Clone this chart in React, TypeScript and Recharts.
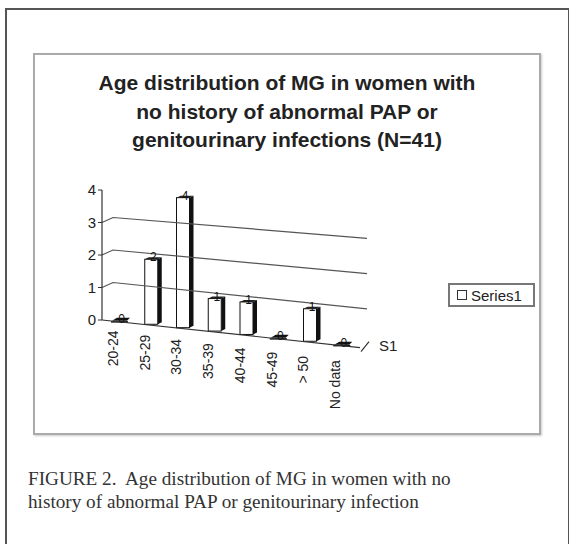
import React from 'react'
import { BarChart, Bar, XAxis, YAxis, ReferenceLine, LabelList } from 'recharts'

const categories = ['20-24', '25-29', '30-34', '35-39', '40-44', '45-49', '> 50', 'No data']
const series1 = [0, 2, 4, 1, 1, 0, 1, 0]
const yTicks = [0, 1, 2, 3, 4]
const gridValues = [1, 2, 3]
const titleLines = [
  'Age distribution of MG in women with',
  'no history of abnormal PAP or',
  'genitourinary infections (N=41)',
]
const captionLines = [
  'FIGURE 2.  Age distribution of MG in women with no',
  'history of abnormal PAP or genitourinary infection',
]

const data = categories.map((age, i) => ({ age, value: series1[i] }))

const W = 569
const H = 544
const MARGIN = { top: 190, right: 202, bottom: 164, left: 62 }
const Y_AXIS_W = 40
const X_AXIS_H = 60
const PLOT_LEFT = MARGIN.left + Y_AXIS_W
const PLOT_BOTTOM = H - MARGIN.bottom - X_AXIS_H
const FLOOR_SLOPE = 0.107 // fake 3d: floor runs downhill to the right
const SANS = "'Liberation Sans', Arial, sans-serif"
const SERIF = "'Liberation Serif', 'Times New Roman', serif"

const floorDy = (x: number) => (x - PLOT_LEFT) * FLOOR_SLOPE

function Bar3D(props: any) {
  const { x, y, width, height } = props
  const cx = x + width / 2
  const dy = floorDy(cx) - 1
  const top = y + dy
  const bottom = y + height + dy
  const d = 4
  if (height < 1) {
    // zero value: just the flat lid
    return (
      <g>
        <polygon
          points={`${x - 1},${bottom} ${x + d},${bottom - 3} ${x + width + d},${bottom - 3} ${x + width + 1},${bottom}`}
          fill="#111"
        />
        <line x1={x - 2} y1={bottom + 1} x2={x + width + 2} y2={bottom + 1} stroke="#111" strokeWidth={1.5} />
      </g>
    )
  }
  return (
    <g>
      <polygon
        points={`${x + width},${top} ${x + width + d},${top - 2} ${x + width + d},${bottom - 2} ${x + width},${bottom}`}
        fill="#111"
      />
      <polygon
        points={`${x},${top} ${x + d},${top - 2} ${x + width + d},${top - 2} ${x + width},${top}`}
        fill="#222"
      />
      <rect x={x} y={top} width={width} height={bottom - top} fill="#fff" stroke="#111" strokeWidth={1} />
    </g>
  )
}

const renderValueLabel = (props: any) => {
  const { x, y, width, value } = props
  const cx = x + width / 2
  const top = y + floorDy(cx) - 1
  return (
    <text x={cx + 2} y={top + 2} textAnchor="middle" fontSize={12} fill="#111" fontFamily={SANS}>
      {value}
    </text>
  )
}

const CategoryTick = (props: any) => {
  const { x, payload } = props
  const tx = x - 2
  const ty = PLOT_BOTTOM + floorDy(x) * 1.25 + 8
  return (
    <text
      x={tx}
      y={ty}
      transform={`rotate(-90 ${tx} ${ty})`}
      textAnchor="end"
      fontSize={14}
      fill="#222"
      fontFamily={SANS}
    >
      {payload.value}
    </text>
  )
}

// back wall grid lines, bent at the axis and sloping with perspective
const makeGridLine = (v: number) => (p: any) => {
  const { x1, y1, x2 } = p
  const slope = 0.115 - 0.011 * v
  const bx = x1 + 11
  const by = y1 - 5
  const ey = by + (x2 - bx) * slope
  return <polyline points={`${x1},${y1} ${bx},${by} ${x2},${ey}`} fill="none" stroke="#555" strokeWidth={1.2} />
}

const FloorEdge = (p: any) => {
  const { x1, y1, x2 } = p
  const xe = x2 - 7
  const ye = y1 + (xe - x1) * FLOOR_SLOPE
  return (
    <g>
      <line x1={x1} y1={y1} x2={xe} y2={ye} stroke="#333" strokeWidth={1.2} />
      <line x1={xe + 1} y1={ye + 4} x2={xe + 9} y2={ye - 6} stroke="#333" strokeWidth={1.2} />
      <text x={xe + 19} y={ye + 3} fontSize={15} fill="#222" fontFamily={SANS}>
        S1
      </text>
    </g>
  )
}

export default function App() {
  return (
    <div style={{ position: 'absolute', left: 0, top: 0, width: W, height: H, overflow: 'hidden', background: '#fff' }}>
      <div
        style={{
          position: 'absolute',
          left: 5,
          top: 8,
          width: 561,
          height: 560,
          borderLeft: '2px solid #555',
          borderTop: '2px solid #555',
          borderRight: '2px solid #555',
        }}
      />
      <div
        style={{
          position: 'absolute',
          left: 33,
          top: 53,
          width: 504,
          height: 378,
          border: '2px solid #aaa',
          boxShadow: '1px 1px 2px #ccc',
        }}
      />
      <div
        style={{
          position: 'absolute',
          left: 33,
          top: 69,
          width: 508,
          textAlign: 'center',
          fontFamily: SANS,
          fontWeight: 'bold',
          fontSize: 21,
          lineHeight: '28.5px',
          color: '#222',
        }}
      >
        {titleLines.map((t) => (
          <div key={t}>{t}</div>
        ))}
      </div>
      <div style={{ position: 'absolute', left: 0, top: 0 }}>
        <BarChart width={W} height={H} data={data} margin={MARGIN}>
          {gridValues.map((v) => (
            <ReferenceLine key={v} y={v} shape={makeGridLine(v)} />
          ))}
          <ReferenceLine y={0} shape={FloorEdge} />
          <XAxis
            dataKey="age"
            height={X_AXIS_H}
            padding={{ left: 2, right: 9 }}
            axisLine={false}
            tickLine={false}
            interval={0}
            tick={CategoryTick}
          />
          <YAxis
            width={Y_AXIS_W}
            domain={[0, 4]}
            ticks={yTicks}
            interval={0}
            tickSize={4}
            axisLine={{ stroke: '#333', strokeWidth: 1.2 }}
            tickLine={{ stroke: '#333' }}
            tick={{ fontSize: 15, fill: '#222', fontFamily: SANS }}
          />
          <Bar dataKey="value" barSize={13} shape={Bar3D} isAnimationActive={false}>
            <LabelList dataKey="value" content={renderValueLabel} />
          </Bar>
        </BarChart>
      </div>
      <div
        style={{
          position: 'absolute',
          left: 448,
          top: 283,
          width: 83,
          height: 20,
          border: '2px solid #777',
          display: 'flex',
          alignItems: 'center',
          fontFamily: SANS,
          fontSize: 15,
          color: '#222',
        }}
      >
        <span style={{ display: 'inline-block', width: 8, height: 8, border: '1px solid #333', marginLeft: 7, marginRight: 4 }} />
        Series1
      </div>
      <div
        style={{
          position: 'absolute',
          left: 28,
          top: 467,
          fontFamily: SERIF,
          fontSize: 19.2,
          lineHeight: '23px',
          color: '#333',
          whiteSpace: 'pre',
        }}
      >
        {captionLines.map((t) => (
          <div key={t}>{t}</div>
        ))}
      </div>
    </div>
  )
}
